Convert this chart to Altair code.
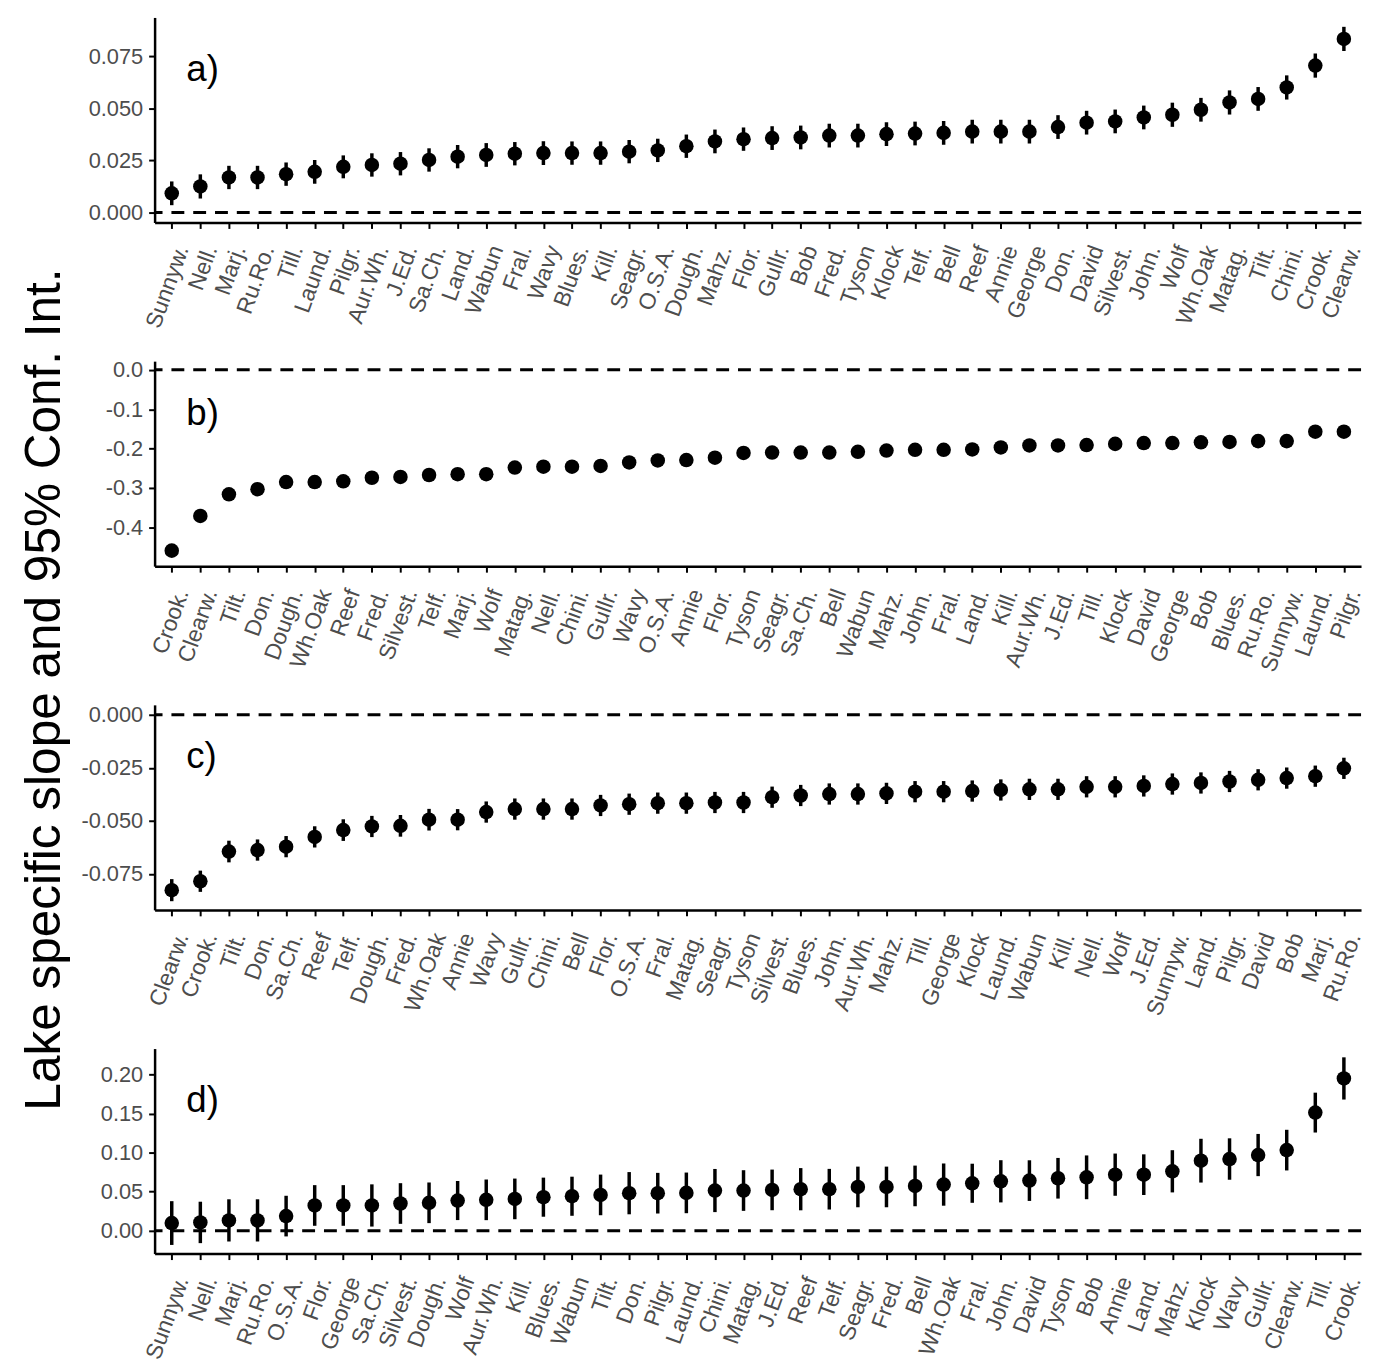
import altair as alt
import pandas as pd

# ---------------- data ----------------
names_a = ["Sunnyw.", "Nell.", "Marj.", "Ru.Ro.", "Till.", "Laund.", "Pilgr.", "Aur.Wh.", "J.Ed.", "Sa.Ch.",
           "Land.", "Wabun", "Fral.", "Wavy", "Blues.", "Kill.", "Seagr.", "O.S.A.", "Dough.", "Mahz.",
           "Flor.", "Gullr.", "Bob", "Fred.", "Tyson", "Klock", "Telf.", "Bell", "Reef", "Annie",
           "George", "Don.", "David", "Silvest.", "John.", "Wolf", "Wh.Oak", "Matag.", "Tilt.", "Chini.",
           "Crook.", "Clearw."]
est_a = [0.0092, 0.0125, 0.0168, 0.0168, 0.0184, 0.0195, 0.0219, 0.0228, 0.0234, 0.0252,
         0.0268, 0.0276, 0.0282, 0.0285, 0.0285, 0.0285, 0.0292, 0.0298, 0.0318, 0.0341,
         0.0352, 0.0357, 0.0360, 0.0369, 0.0369, 0.0376, 0.0379, 0.0382, 0.0388, 0.0388,
         0.0388, 0.0410, 0.0431, 0.0437, 0.0456, 0.0469, 0.0493, 0.0528, 0.0545, 0.0600,
         0.0705, 0.0833]
hw_a = [0.0057, 0.0058, 0.0056, 0.0056, 0.0056, 0.0057, 0.0055, 0.0056, 0.0056, 0.0056,
        0.0056, 0.0057, 0.0056, 0.0057, 0.0056, 0.0056, 0.0056, 0.0056, 0.0056, 0.0057,
        0.0056, 0.0057, 0.0057, 0.0057, 0.0057, 0.0057, 0.0057, 0.0057, 0.0057, 0.0057,
        0.0057, 0.0057, 0.0057, 0.0057, 0.0057, 0.0058, 0.0057, 0.0058, 0.0057, 0.0058,
        0.0058, 0.0058]

names_b = ["Crook.", "Clearw.", "Tilt.", "Don.", "Dough.", "Wh.Oak", "Reef", "Fred.", "Silvest.", "Telf.",
           "Marj.", "Wolf", "Matag.", "Nell.", "Chini.", "Gullr.", "Wavy", "O.S.A.", "Annie", "Flor.",
           "Tyson", "Seagr.", "Sa.Ch.", "Bell", "Wabun", "Mahz.", "John.", "Fral.", "Land.", "Kill.",
           "Aur.Wh.", "J.Ed.", "Till.", "Klock", "David", "George", "Bob", "Blues.", "Ru.Ro.", "Sunnyw.",
           "Laund.", "Pilgr."]
est_b = [-0.459, -0.371, -0.316, -0.303, -0.285, -0.285, -0.283, -0.274, -0.272, -0.267,
         -0.265, -0.265, -0.248, -0.246, -0.246, -0.244, -0.235, -0.230, -0.229, -0.223,
         -0.211, -0.210, -0.210, -0.210, -0.208, -0.205, -0.203, -0.203, -0.202, -0.197,
         -0.192, -0.192, -0.191, -0.188, -0.186, -0.186, -0.184, -0.183, -0.181, -0.181,
         -0.157, -0.157]
hw_b = [0.006, 0.006, 0.006, 0.006, 0.006, 0.006, 0.006, 0.006, 0.006, 0.006,
        0.006, 0.006, 0.006, 0.006, 0.006, 0.006, 0.006, 0.006, 0.006, 0.006,
        0.006, 0.006, 0.006, 0.006, 0.006, 0.006, 0.006, 0.006, 0.006, 0.006,
        0.006, 0.006, 0.006, 0.006, 0.006, 0.006, 0.006, 0.006, 0.006, 0.006,
        0.006, 0.006]

names_c = ["Clearw.", "Crook.", "Tilt.", "Don.", "Sa.Ch.", "Reef", "Telf.", "Dough.", "Fred.", "Wh.Oak",
           "Annie", "Wavy", "Gullr.", "Chini.", "Bell", "Flor.", "O.S.A.", "Fral.", "Matag.", "Seagr.",
           "Tyson", "Silvest.", "Blues.", "John.", "Aur.Wh.", "Mahz.", "Till.", "George", "Klock", "Laund.",
           "Wabun", "Kill.", "Nell.", "Wolf", "J.Ed.", "Sunnyw.", "Land.", "Pilgr.", "David", "Bob",
           "Marj.", "Ru.Ro."]
est_c = [-0.0826, -0.0784, -0.0644, -0.0637, -0.0621, -0.0575, -0.0543, -0.0526, -0.0523, -0.0494,
         -0.0494, -0.0458, -0.0444, -0.0444, -0.0444, -0.0427, -0.0421, -0.0416, -0.0416, -0.0413,
         -0.0413, -0.0388, -0.0380, -0.0373, -0.0373, -0.0370, -0.0362, -0.0362, -0.0359, -0.0354,
         -0.0351, -0.0351, -0.0339, -0.0339, -0.0335, -0.0326, -0.0321, -0.0314, -0.0306, -0.0298,
         -0.0289, -0.0252]
hw_c = [0.0052, 0.0050, 0.0051, 0.0050, 0.0050, 0.0050, 0.0051, 0.0050, 0.0051, 0.0051,
        0.0050, 0.0050, 0.0050, 0.0050, 0.0050, 0.0050, 0.0050, 0.0050, 0.0050, 0.0050,
        0.0050, 0.0050, 0.0050, 0.0050, 0.0050, 0.0050, 0.0050, 0.0050, 0.0050, 0.0050,
        0.0050, 0.0050, 0.0050, 0.0050, 0.0050, 0.0050, 0.0050, 0.0050, 0.0050, 0.0050,
        0.0050, 0.0050]

names_d = ["Sunnyw.", "Nell.", "Marj.", "Ru.Ro.", "O.S.A.", "Flor.", "George", "Sa.Ch.", "Silvest.", "Dough.",
           "Wolf", "Aur.Wh.", "Kill.", "Blues.", "Wabun", "Tilt.", "Don.", "Pilgr.", "Laund.", "Chini.",
           "Matag.", "J.Ed.", "Reef", "Telf.", "Seagr.", "Fred.", "Bell", "Wh.Oak", "Fral.", "John.",
           "David", "Tyson", "Bob", "Annie", "Land.", "Mahz.", "Klock", "Wavy", "Gullr.", "Clearw.",
           "Till.", "Crook."]
est_d = [0.0098, 0.0106, 0.0132, 0.0132, 0.0187, 0.0323, 0.0323, 0.0323, 0.0348, 0.0357,
         0.0386, 0.0395, 0.0407, 0.0429, 0.0441, 0.0458, 0.0480, 0.0480, 0.0484, 0.0514,
         0.0514, 0.0522, 0.0531, 0.0531, 0.0560, 0.0560, 0.0573, 0.0590, 0.0607, 0.0632,
         0.0641, 0.0671, 0.0683, 0.0717, 0.0717, 0.0760, 0.0896, 0.0917, 0.0968, 0.1031,
         0.1511, 0.1948]
hw_d = [0.0280, 0.0265, 0.0270, 0.0270, 0.0260, 0.0260, 0.0260, 0.0270, 0.0260, 0.0260,
        0.0250, 0.0260, 0.0260, 0.0250, 0.0250, 0.0260, 0.0270, 0.0260, 0.0260, 0.0276,
        0.0260, 0.0260, 0.0270, 0.0260, 0.0260, 0.0260, 0.0260, 0.0270, 0.0250, 0.0270,
        0.0260, 0.0260, 0.0280, 0.0270, 0.0260, 0.0270, 0.0280, 0.0265, 0.0270, 0.0260,
        0.0255, 0.0270]

panel_labels = ["a)", "b)", "c)", "d)"]
y_domains = [[-0.0048, 0.0936], [-0.4985, 0.022], [-0.0919, 0.0047], [-0.0293, 0.233]]
y_ticks = [[0.0, 0.025, 0.05, 0.075], [0.0, -0.1, -0.2, -0.3, -0.4],
           [0.0, -0.025, -0.05, -0.075], [0.0, 0.05, 0.10, 0.15, 0.20]]
y_formats = [".3f", ".1f", ".3f", ".2f"]
y_title = "Lake specific slope and 95% Conf. Int."

FONT = "Liberation Sans"
W, H = 1218, 207


def panel(names, est, hw, label, domain, ticks, fmt, show_title):
    df = pd.DataFrame({"lake": names, "est": est,
                       "lo": [e - h for e, h in zip(est, hw)],
                       "hi": [e + h for e, h in zip(est, hw)]})
    zero_df = pd.DataFrame({"est": [0.0]})
    lab_df = pd.DataFrame({"label": [label]})

    axis_kw = dict(values=ticks,
                   labelExpr="replace(format(datum.value, '%s'), '\u2212', '-')" % fmt,
                   grid=False, domainColor="black", domainWidth=2.5, tickColor="black",
                   tickWidth=2, tickSize=6, labelColor="#4D4D4D", labelFontSize=22,
                   labelFont=FONT, labelPadding=6)
    if show_title:
        axis_kw.update(title=y_title, titleFontSize=50, titleFont=FONT, titleColor="black",
                       titleFontWeight="normal", titleAngle=270, titleX=-96, titleY=331,
                       titleBaseline="alphabetic", titleAlign="center")
    else:
        axis_kw.update(title=None)
    yaxis = alt.Axis(**axis_kw)
    yscale = alt.Scale(domain=domain, nice=False, zero=False)
    xenc = alt.X("lake:N", sort=names, scale=alt.Scale(type="point", padding=0.6),
                 axis=alt.Axis(title=None, labelAngle=-70, labelAlign="right",
                               labelBaseline="top", labelPadding=14, labelOverlap=False,
                               labelLimit=300, grid=False, domainColor="black",
                               domainWidth=2.5, tickColor="black", tickWidth=2, tickSize=6,
                               labelColor="#4D4D4D", labelFontSize=23, labelFont=FONT))

    hline = alt.Chart(zero_df).mark_rule(color="black", strokeWidth=3,
                                         strokeDash=[13, 9]).encode(
        y=alt.Y("est:Q", scale=yscale, axis=yaxis))
    bars = alt.Chart(df).mark_rule(color="black", strokeWidth=3.5).encode(
        x=xenc, y=alt.Y("lo:Q", scale=yscale, axis=yaxis), y2="hi:Q")
    pts = alt.Chart(df).mark_circle(color="black", opacity=1, size=215).encode(
        x=xenc, y=alt.Y("est:Q", scale=yscale, axis=yaxis))
    txt = alt.Chart(lab_df).mark_text(align="left", baseline="alphabetic", fontSize=37,
                                      font=FONT, color="black").encode(
        x=alt.value(32), y=alt.value(64), text="label:N")
    return alt.layer(hline, bars, pts, txt).properties(width=W, height=H)


pa = panel(names_a, est_a, hw_a, panel_labels[0], y_domains[0], y_ticks[0], y_formats[0], False)
pb = panel(names_b, est_b, hw_b, panel_labels[1], y_domains[1], y_ticks[1], y_formats[1], True)
pc = panel(names_c, est_c, hw_c, panel_labels[2], y_domains[2], y_ticks[2], y_formats[2], False)
pd_ = panel(names_d, est_d, hw_d, panel_labels[3], y_domains[3], y_ticks[3], y_formats[3], False)

chart = alt.vconcat(pa, pb, pc, pd_, spacing=140, bounds="flush").properties(
    padding={"left": 11, "top": 3, "right": 0, "bottom": 5},
    background="white"
).configure_view(strokeWidth=0)

chart.save("out.html", embed_options={"renderer": "svg", "actions": False})
